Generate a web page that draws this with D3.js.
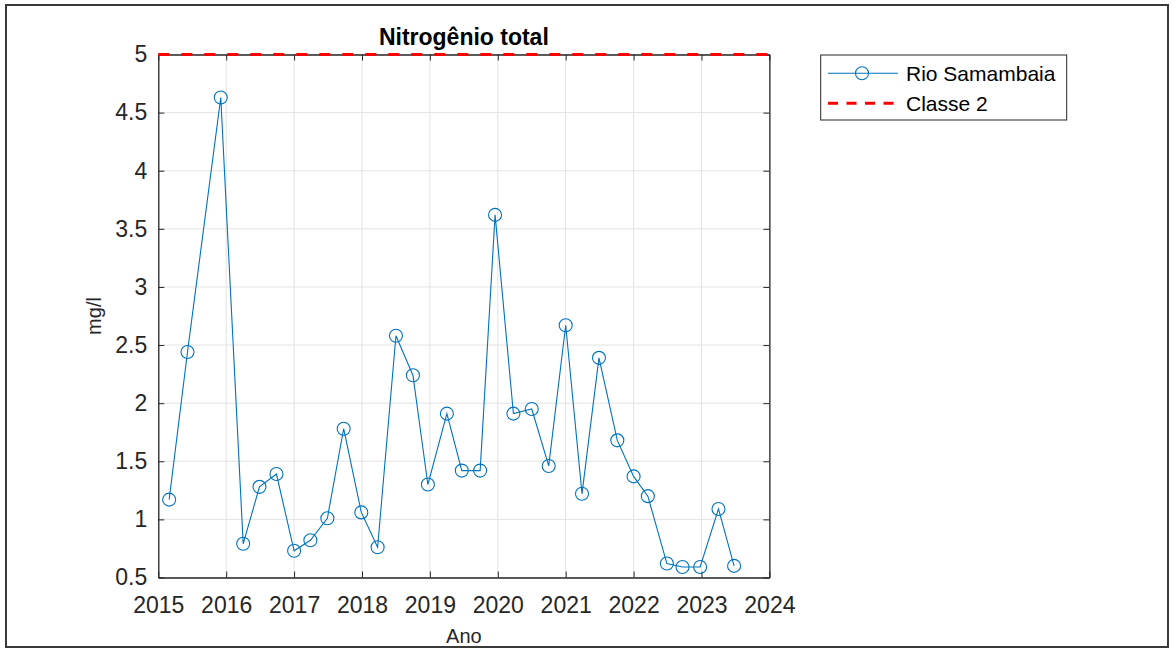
<!DOCTYPE html>
<html>
<head>
<meta charset="utf-8">
<script src="https://cdn.jsdelivr.net/npm/d3@7"></script>
<style>
  html, body { margin: 0; padding: 0; background: #fff; }
  svg { display: block; font-family: "Liberation Sans", Arial, sans-serif; }
</style>
</head>
<body>
<svg id="chart" width="1176" height="649"></svg>
<script>
// ---- data ----
const years = [2015.16, 2015.43, 2015.92, 2016.25, 2016.49, 2016.74, 2017.0, 2017.24, 2017.49, 2017.73,
               2017.99, 2018.23, 2018.5, 2018.75, 2018.97, 2019.25, 2019.47, 2019.74, 2019.96, 2020.23,
               2020.5, 2020.75, 2021.0, 2021.24, 2021.49, 2021.76, 2022.0, 2022.21, 2022.49, 2022.72,
               2022.98, 2023.25, 2023.48];
const values = [1.17, 2.44, 4.63, 0.79, 1.28, 1.39, 0.73, 0.82, 1.01, 1.78,
                1.06, 0.76, 2.58, 2.24, 1.30, 1.91, 1.42, 1.42, 3.62, 1.91,
                1.95, 1.46, 2.67, 1.22, 2.39, 1.68, 1.37, 1.20, 0.62, 0.59,
                0.59, 1.09, 0.60];
const classeLimit = 5;
const xTicks = [2015, 2016, 2017, 2018, 2019, 2020, 2021, 2022, 2023, 2024];
const yTicks = [0.5, 1, 1.5, 2, 2.5, 3, 3.5, 4, 4.5, 5];
const seriesNames = ["Rio Samambaia", "Classe 2"];
const titleText = "Nitrogênio total";
const xLabel = "Ano";
const yLabel = "mg/l";

// ---- layout ----
const svg = d3.select("#chart");
const L = 158.3, R = 769.4, T = 54.5, B = 577.5;
const blue = "#0072BD", axisCol = "#262626", gridCol = "#e3e3e3";

const x = d3.scaleLinear().domain([2015, 2024]).range([L, R]);
const y = d3.scaleLinear().domain([0.5, 5]).range([B, T]);

// outer frame
svg.append("rect").attr("x", 6).attr("y", 5).attr("width", 1162).attr("height", 642)
  .attr("fill", "none").attr("stroke", "#3a3a3a").attr("stroke-width", 2);

// grid
const g = svg.append("g");
g.selectAll(".vg").data(xTicks).join("line")
  .attr("x1", d => x(d)).attr("x2", d => x(d)).attr("y1", T).attr("y2", B)
  .attr("stroke", gridCol).attr("stroke-width", 1);
g.selectAll(".hg").data(yTicks).join("line")
  .attr("x1", L).attr("x2", R).attr("y1", d => y(d)).attr("y2", d => y(d))
  .attr("stroke", gridCol).attr("stroke-width", 1);

// axes (MATLAB-like box with inward ticks)
const fs = 23;
const xAxis = d3.axisBottom(x).tickValues(xTicks).tickFormat(d3.format("d")).tickSizeInner(-6).tickSizeOuter(0).tickPadding(19.5);
const yAxis = d3.axisLeft(y).tickValues(yTicks).tickFormat(d => String(d)).tickSizeInner(-6).tickSizeOuter(0).tickPadding(11);
const xAxisTop = d3.axisTop(x).tickValues(xTicks).tickFormat("").tickSizeInner(-6).tickSizeOuter(0);
const yAxisRight = d3.axisRight(y).tickValues(yTicks).tickFormat("").tickSizeInner(-6).tickSizeOuter(0);

function styleAxis(sel) {
  sel.selectAll("path.domain").attr("stroke", axisCol).attr("stroke-width", 1.3);
  sel.selectAll(".tick line").attr("stroke", axisCol).attr("stroke-width", 1);
  sel.selectAll(".tick text").attr("fill", axisCol).attr("font-size", fs)
     .attr("font-family", "Liberation Sans, Arial, sans-serif");
}
svg.append("g").attr("transform", `translate(0,${B})`).call(xAxis).call(styleAxis);
svg.append("g").attr("transform", `translate(${L},0)`).call(yAxis).call(styleAxis);
svg.append("g").attr("transform", `translate(0,${T})`).call(xAxisTop).call(styleAxis);
svg.append("g").attr("transform", `translate(${R},0)`).call(yAxisRight).call(styleAxis);

// series line + markers
const pts = years.map((yr, i) => ({ x: yr, y: values[i] }));
const line = d3.line().x(d => x(d.x)).y(d => y(d.y));
svg.append("path").datum(pts).attr("d", line)
  .attr("fill", "none").attr("stroke", blue).attr("stroke-width", 1.1);
svg.selectAll(".pt").data(pts).join("circle")
  .attr("cx", d => x(d.x)).attr("cy", d => y(d.y)).attr("r", 6.5)
  .attr("fill", "none").attr("stroke", blue).attr("stroke-width", 1.1);

// Classe 2 limit
svg.append("line").attr("x1", x(2015)).attr("x2", x(2024))
  .attr("y1", y(classeLimit)).attr("y2", y(classeLimit))
  .attr("stroke", "#ff0000").attr("stroke-width", 3).attr("stroke-dasharray", "11,12");

// title and labels
svg.append("text").attr("x", (L + R) / 2).attr("y", 45).attr("text-anchor", "middle")
  .attr("font-size", 23).attr("font-weight", "bold").attr("fill", "#000").text(titleText);
svg.append("text").attr("x", (L + R) / 2).attr("y", 643).attr("text-anchor", "middle")
  .attr("font-size", 20).attr("fill", axisCol).text(xLabel);
svg.append("text").attr("transform", `translate(101,${(T + B) / 2}) rotate(-90)`)
  .attr("text-anchor", "middle").attr("font-size", 20).attr("fill", axisCol).text(yLabel);

// legend
const lg = svg.append("g");
lg.append("rect").attr("x", 820.7).attr("y", 55).attr("width", 246).attr("height", 65)
  .attr("fill", "#fff").attr("stroke", axisCol).attr("stroke-width", 1);
const rows = [73.3, 103.3];
lg.append("line").attr("x1", 828).attr("x2", 898).attr("y1", rows[0]).attr("y2", rows[0])
  .attr("stroke", blue).attr("stroke-width", 1.1);
lg.append("circle").attr("cx", 862).attr("cy", rows[0]).attr("r", 6.5)
  .attr("fill", "none").attr("stroke", blue).attr("stroke-width", 1.1);
lg.append("line").attr("x1", 828).attr("x2", 900).attr("y1", rows[1]).attr("y2", rows[1])
  .attr("stroke", "#ff0000").attr("stroke-width", 3).attr("stroke-dasharray", "10,8.5");
lg.selectAll(".lt").data(seriesNames).join("text")
  .attr("x", 906).attr("y", (d, i) => rows[i]).attr("dy", "0.36em")
  .attr("font-size", 21).attr("fill", "#000").text(d => d);
</script>
</body>
</html>
